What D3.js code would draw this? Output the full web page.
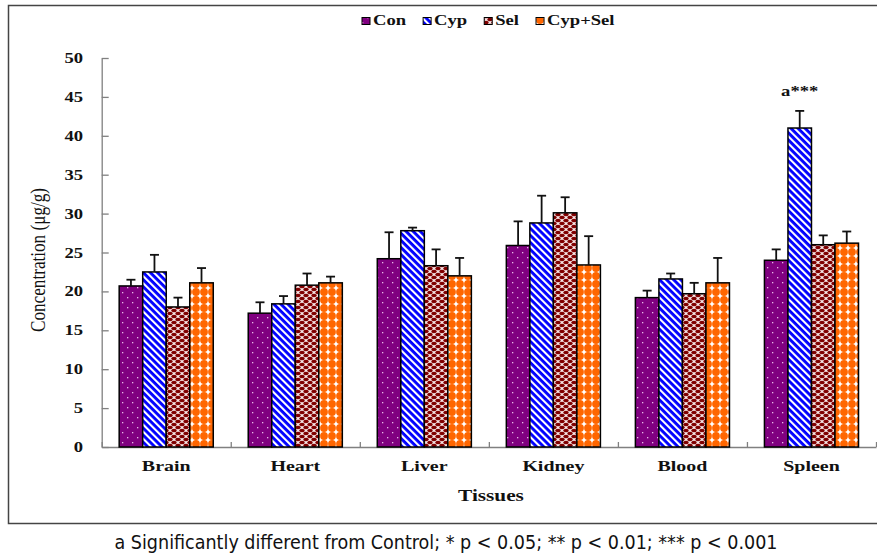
<!DOCTYPE html>
<html lang="en">

<head>
	<meta charset="utf-8">
	<title>Concentration by tissue</title>
	<script type="text/javascript" src="https://cdn.jsdelivr.net/npm/d3@7"></script>
	<style>
		body { margin: 0; background: #fff; }
	</style>
</head>

<body>
	<script type="text/javascript">

		// Data
		const tissues = ["Brain", "Heart", "Liver", "Kidney", "Blood", "Spleen"];
		const groups = ["Con", "Cyp", "Sel", "Cyp+Sel"];
		const conMean = [20.7, 17.2, 24.2, 25.9, 19.2, 24.0];
		const conErr = [0.8, 1.4, 3.4, 3.1, 0.9, 1.4];
		const cypMean = [22.5, 18.4, 27.8, 28.8, 21.6, 41.0];
		const cypErr = [2.2, 1.0, 0.4, 3.5, 0.7, 2.2];
		const selMean = [18.0, 20.8, 23.3, 30.1, 19.7, 26.0];
		const selErr = [1.2, 1.5, 2.1, 2.0, 1.4, 1.2];
		const cspMean = [21.1, 21.1, 22.0, 23.4, 21.1, 26.2];
		const cspErr = [1.9, 0.8, 2.3, 3.7, 3.2, 1.5];
		const yTicks = [0, 5, 10, 15, 20, 25, 30, 35, 40, 45, 50];
		const notes = ["", "", "", "", "", "a***"];

		const means = [conMean, cypMean, selMean, cspMean];
		const errs = [conErr, cypErr, selErr, cspErr];

		const w = 877;
		const h = 557;
		const SX = 1.33; // the figure is stretched sideways
		const serif = "'Liberation Serif', 'Times New Roman', serif";

		const svg = d3.select("body")
			.append("svg")
			.attr("width", w)
			.attr("height", h);

		// Patterns
		const defs = svg.append("defs");

		const p0 = defs.append("pattern").attr("id", "pat0")
			.attr("patternUnits", "userSpaceOnUse").attr("width", 10).attr("height", 10);
		p0.append("rect").attr("width", 10).attr("height", 10).attr("fill", "#800080");
		p0.append("rect").attr("x", 2).attr("y", 2).attr("width", 1.3).attr("height", 1.3).attr("fill", "#e8b8e8");
		p0.append("rect").attr("x", 7).attr("y", 7).attr("width", 1.3).attr("height", 1.3).attr("fill", "#e8b8e8");

		const p1 = defs.append("pattern").attr("id", "pat1")
			.attr("patternUnits", "userSpaceOnUse").attr("width", 5).attr("height", 5)
			.attr("patternTransform", "rotate(-45)");
		p1.append("rect").attr("width", 5).attr("height", 5).attr("fill", "#0000ff");
		p1.append("rect").attr("width", 2.1).attr("height", 5).attr("fill", "#ffffff");

		const p2 = defs.append("pattern").attr("id", "pat2")
			.attr("patternUnits", "userSpaceOnUse").attr("width", 8).attr("height", 6);
		p2.append("rect").attr("width", 8).attr("height", 6).attr("fill", "#f4e4e4");
		[[2, 1.5], [6, 4.5], [10, 1.5], [-2, 4.5], [2, 7.5], [6, -1.5]].forEach(function (c) {
			p2.append("ellipse").attr("cx", c[0]).attr("cy", c[1]).attr("rx", 2.7).attr("ry", 1.65).attr("fill", "#800000");
		});

		const p3 = defs.append("pattern").attr("id", "pat3")
			.attr("patternUnits", "userSpaceOnUse").attr("width", 8).attr("height", 8);
		p3.append("rect").attr("width", 8).attr("height", 8).attr("fill", "#ffffff");
		p3.append("circle").attr("cx", 4).attr("cy", 4).attr("r", 3.9).attr("fill", "#ff6600");

		// Frame
		svg.append("rect")
			.attr("x", 8.5).attr("y", 5.5)
			.attr("width", 880).attr("height", 518)
			.attr("fill", "none")
			.attr("stroke", "#444")
			.attr("stroke-width", 1.5);

		// Scales
		const x0 = d3.scaleBand()
			.domain(tissues)
			.range([101.7, 876])
			.paddingInner(0.271)
			.paddingOuter(0.1355);

		const x1 = d3.scaleBand()
			.domain(groups)
			.range([0, x0.bandwidth()]);

		const y = d3.scaleLinear()
			.domain([0, 50])
			.range([447, 58]);

		const xEdge = d3.scaleLinear()
			.domain([0, tissues.length])
			.range([101.7, 876]);

		// Axes
		const yAxis = svg.append("g")
			.attr("transform", "translate(101.7,0)")
			.call(d3.axisLeft(y).tickValues(yTicks).tickSizeInner(-7).tickSizeOuter(0).tickFormat(""));
		yAxis.selectAll("line, path").attr("stroke", "#808080").attr("stroke-width", 1.3);

		const xAxis = svg.append("g")
			.attr("transform", "translate(0,447)")
			.call(d3.axisBottom(xEdge).tickValues(d3.range(tissues.length + 1)).tickSizeInner(-5).tickSizeOuter(0).tickFormat(""));
		xAxis.selectAll("line, path").attr("stroke", "#808080").attr("stroke-width", 1.3);

		function stext(x, yy, str, size, anchor, weight) {
			return svg.append("text")
				.attr("transform", `translate(${x},${yy}) scale(${SX},1)`)
				.attr("text-anchor", anchor)
				.attr("font-family", serif)
				.attr("font-weight", weight || "bold")
				.attr("font-size", size + "px")
				.attr("fill", "#111")
				.text(str);
		}

		yTicks.forEach(function (t) {
			stext(83, y(t) + 5, t, 14, "end");
		});

		tissues.forEach(function (t) {
			stext(x0(t) + x0.bandwidth() / 2, 471, t, 15, "middle");
		});

		stext(491, 501, "Tissues", 16, "middle");

		svg.append("text")
			.attr("transform", `translate(45,260) scale(${SX},1) rotate(-90)`)
			.attr("text-anchor", "middle")
			.attr("font-family", serif)
			.attr("font-size", "15px")
			.attr("textLength", 144)
			.attr("lengthAdjust", "spacingAndGlyphs")
			.attr("fill", "#111")
			.text("Concentration (\u03bcg/g)");

		// Bars
		const flat = [];
		tissues.forEach(function (t, i) {
			groups.forEach(function (g, j) {
				flat.push({ t: t, g: g, j: j, v: means[j][i], e: errs[j][i] });
			});
		});

		svg.selectAll("rect.bar")
			.data(flat)
			.enter()
			.append("rect")
			.attr("class", "bar")
			.attr("x", function (d) { return x0(d.t) + x1(d.g); })
			.attr("y", function (d) { return y(d.v); })
			.attr("width", x1.bandwidth())
			.attr("height", function (d) { return y(0) - y(d.v); })
			.attr("fill", function (d) { return "url(#pat" + d.j + ")"; })
			.attr("stroke", "#000")
			.attr("stroke-width", 1.5);

		// Error bars (upper only)
		const eb = svg.selectAll("g.err")
			.data(flat)
			.enter()
			.append("g")
			.attr("class", "err")
			.attr("stroke", "#111")
			.attr("stroke-width", 1.8);

		eb.append("line")
			.attr("x1", function (d) { return x0(d.t) + x1(d.g) + x1.bandwidth() / 2; })
			.attr("x2", function (d) { return x0(d.t) + x1(d.g) + x1.bandwidth() / 2; })
			.attr("y1", function (d) { return y(d.v); })
			.attr("y2", function (d) { return y(d.v + d.e); });

		eb.append("line")
			.attr("x1", function (d) { return x0(d.t) + x1(d.g) + x1.bandwidth() / 2 - 4.5; })
			.attr("x2", function (d) { return x0(d.t) + x1(d.g) + x1.bandwidth() / 2 + 4.5; })
			.attr("y1", function (d) { return y(d.v + d.e); })
			.attr("y2", function (d) { return y(d.v + d.e); });

		// Significance note
		tissues.forEach(function (t, i) {
			if (notes[i]) {
				stext(x0(t) + x1("Cyp") + x1.bandwidth() / 2, y(cypMean[i] + cypErr[i]) - 15, notes[i], 14, "middle");
			}
		});

		// Legend
		let lx = 362;
		groups.forEach(function (g, j) {
			svg.append("rect")
				.attr("x", lx).attr("y", 17.5)
				.attr("width", 8).attr("height", 7)
				.attr("fill", "url(#pat" + j + ")")
				.attr("stroke", "#000")
				.attr("stroke-width", 1);
			const t = stext(lx + 11, 25, g, 14, "start");
			lx += 11 + t.node().getComputedTextLength() * SX + 17;
		});

		// Footnote
		svg.append("text")
			.attr("x", 446)
			.attr("y", 549)
			.attr("text-anchor", "middle")
			.attr("font-family", "'Liberation Sans Narrow', 'DejaVu Sans Condensed', sans-serif")
			.attr("font-size", "20px")
			.attr("textLength", 663)
			.attr("lengthAdjust", "spacingAndGlyphs")
			.attr("fill", "#111")
			.text("a Significantly different from Control; * p < 0.05; ** p < 0.01; *** p < 0.001");

	</script>
</body>

</html>
